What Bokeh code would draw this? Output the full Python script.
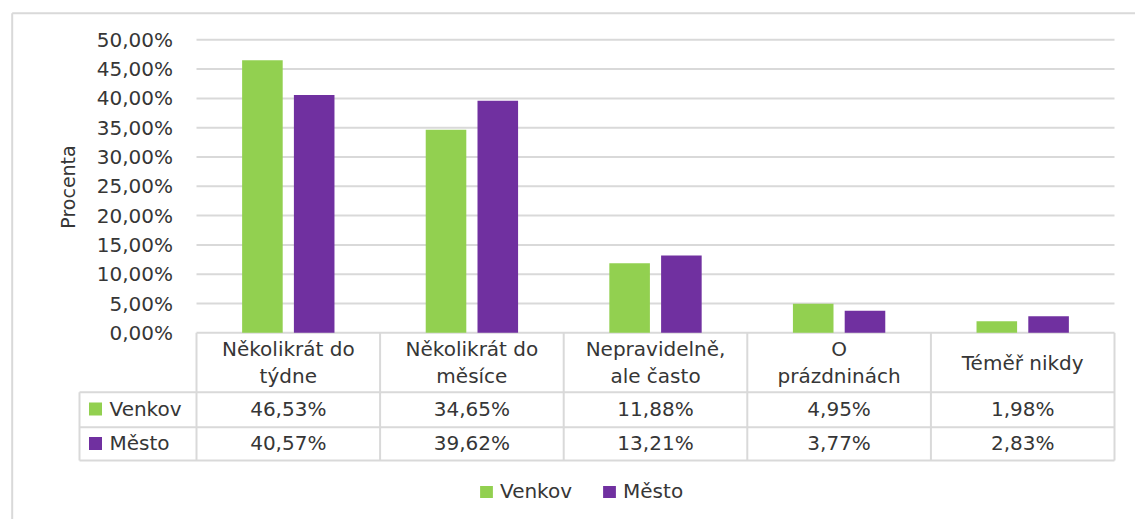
import numpy as np
from bokeh.plotting import figure
from bokeh.models import Range1d, Legend, LegendItem
from bokeh.core.properties import value
from bokeh.embed import file_html
from bokeh.resources import INLINE

# ---------------- data ----------------
categories = ["Několikrát do\ntýdne", "Několikrát do\nměsíce", "Nepravidelně,\nale často",
              "O\nprázdninách", "Téměř nikdy"]
series_names = ["Venkov", "Město"]
venkov = [46.53, 34.65, 11.88, 4.95, 1.98]
mesto = [40.57, 39.62, 13.21, 3.77, 2.83]
tick_values = [0, 5, 10, 15, 20, 25, 30, 35, 40, 45, 50]
tick_labels = ["0,00%", "5,00%", "10,00%", "15,00%", "20,00%", "25,00%",
               "30,00%", "35,00%", "40,00%", "45,00%", "50,00%"]
y_title = "Procenta"

# ---------------- layout helpers (screen pixels -> data) ----------------
W, H = 1135, 519
PAGE = 0
X0_PX, CAT_PX = 196.0, 183.6      # x=0 at px 196, one category = 183.6 px
Y0_PX, PPU = 332.3, 5.86          # y=0 at py 332.3, 5.86 px per percent


def xd(px):
    return (px - X0_PX) / CAT_PX


def yd(py):
    return (Y0_PX - py) / PPU


FONT = value("DejaVu Sans")
TXT = "#363636"
GRID = "#d9d9d9"
GREEN = "#92D050"
PURPLE = "#7030A0"

p = figure(width=W, height=H, output_backend="svg", toolbar_location=None,
           x_axis_type=None, y_axis_type=None, min_border=0,
           x_range=Range1d(xd(PAGE), xd(PAGE + W)),
           y_range=Range1d(yd(PAGE + H), yd(PAGE)))
p.outline_line_color = None
p.background_fill_color = "white"
p.border_fill_color = "white"

n = len(categories)
centers = np.arange(n) + 0.5

# outer chart border (left and top)
p.segment(x0=[xd(11.7), xd(11.7)], y0=[yd(12.7), yd(12.7)],
          x1=[xd(11.7), xd(PAGE + W + 5)], y1=[yd(PAGE + H + 5), yd(12.7)],
          line_color=GRID, line_width=2)

# horizontal gridlines
p.segment(x0=[0] * len(tick_values), y0=tick_values, x1=[n] * len(tick_values), y1=tick_values,
          line_color=GRID, line_width=2)

# tick labels
p.text(x=[xd(172.5)] * len(tick_values), y=tick_values, text=tick_labels,
       text_align="right", text_baseline="middle", text_font=FONT,
       text_font_size="20px", text_color=TXT)

# y axis title
p.text(x=[xd(67)], y=[yd(186.5)], text=[y_title], angle=np.pi / 2,
       text_align="center", text_baseline="middle", text_font=FONT,
       text_font_size="19px", text_color=TXT)

# bars
off, bw = 0.141, 0.221
rv = p.vbar(x=centers - off, width=bw, top=venkov, bottom=0, fill_color=GREEN, line_color=None)
rm = p.vbar(x=centers + off, width=bw, top=mesto, bottom=0, fill_color=PURPLE, line_color=None)

# ---------------- data table ----------------
row_top = yd(391.7)
row_mid = yd(426.7)
row_bot = yd(460.0)
left = xd(79.0)
# horizontal lines
p.segment(x0=[left, left, left], y0=[row_top, row_mid, row_bot],
          x1=[n, n, n], y1=[row_top, row_mid, row_bot], line_color=GRID, line_width=2)
# vertical lines
p.segment(x0=list(range(n + 1)), y0=[0] * (n + 1), x1=list(range(n + 1)), y1=[row_bot] * (n + 1),
          line_color=GRID, line_width=2)
p.segment(x0=[left], y0=[row_top], x1=[left], y1=[row_bot], line_color=GRID, line_width=2)

# header
p.text(x=centers, y=[yd(362)] * n, text=categories, text_align="center",
       text_baseline="middle", text_font=FONT, text_font_size="20px",
       text_color=TXT, text_line_height=1.1)


def fmt(v):
    return f"{v:.2f}%".replace(".", ",")


p.text(x=centers, y=[yd(408)] * n, text=[fmt(v) for v in venkov], text_align="center",
       text_baseline="middle", text_font=FONT, text_font_size="20px", text_color=TXT)
p.text(x=centers, y=[yd(442)] * n, text=[fmt(v) for v in mesto], text_align="center",
       text_baseline="middle", text_font=FONT, text_font_size="20px", text_color=TXT)

# row legend keys
p.scatter(x=[xd(95)] * 2, y=[yd(408.5), yd(443)], marker="square", size=13,
          fill_color=[GREEN, PURPLE], line_color=None)
p.text(x=[xd(109)] * 2, y=[yd(408), yd(442.5)], text=series_names, text_align="left",
       text_baseline="middle", text_font=FONT, text_font_size="20px", text_color=TXT)

# ---------------- bottom legend ----------------
legend = Legend(items=[LegendItem(label=series_names[0], renderers=[rv]),
                       LegendItem(label=series_names[1], renderers=[rm])],
                orientation="horizontal", location=(478, 16),
                padding=0, margin=0, spacing=29, border_line_color=None,
                background_fill_alpha=0, glyph_width=16, glyph_height=15,
                label_standoff=6, label_text_font="DejaVu Sans",
                label_text_font_size="20px", label_text_color=TXT)
p.add_layout(legend)

open("out.html", "w").write(file_html(p, INLINE))
